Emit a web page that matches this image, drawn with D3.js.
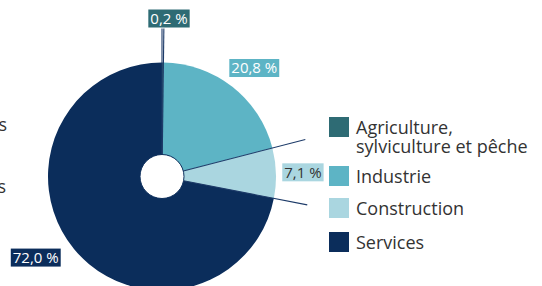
<!DOCTYPE html>
<html>
<head>
<meta charset="utf-8">
<script src="https://cdn.jsdelivr.net/npm/d3@7"></script>
<style>
  body { margin: 0; background: #fff; }
  svg { display: block; font-family: "Open Sans", sans-serif; }
</style>
</head>
<body>
<div id="chart"></div>
<script>
const width = 542, height = 286;

// data
const sectors = ["Agriculture, sylviculture et pêche", "Industrie", "Construction", "Services"];
const legendLines = [["Agriculture,", "sylviculture et pêche"], ["Industrie"], ["Construction"], ["Services"]];
const shares = [0.2, 20.8, 7.1, 72.0];
const shareLabels = ["0,2 %", "20,8 %", "7,1 %", "72,0 %"];

const colors = ["#2e6b74", "#5db4c5", "#aad6e0", "#0b2d5b"];
const labelText = ["#fff", "#fff", "#333", "#fff"];
// label placement: radius and small nudges
const labelPos = [
  { r: 158, dx: 6, dy: 0 },
  { r: 143, dx: 4, dy: 4 },
  { r: 140, dx: 1, dy: 0 },
  { r: 148, dx: -12, dy: -13 }
];

const cx = 162, cy = 176.5, R = 114, hole = 22, lineR = 148;

const svg = d3.select("#chart")
  .append("svg")
  .attr("width", width)
  .attr("height", height);

// cut-off text fragments on the left edge
svg.append("text").attr("x", 7).attr("y", 131).attr("text-anchor", "end")
  .attr("font-size", 18).attr("fill", "#333").text("s");
svg.append("text").attr("x", 6).attr("y", 193).attr("text-anchor", "end")
  .attr("font-size", 18).attr("fill", "#333").text("s");

const pie = d3.pie().sort(null).value(d => d);
const arcs = pie(shares);

const arc = d3.arc().innerRadius(0).outerRadius(R);

const g = svg.append("g").attr("transform", `translate(${cx},${cy})`);

g.selectAll("path.slice")
  .data(arcs)
  .join("path")
  .attr("class", "slice")
  .attr("d", arc)
  .attr("fill", (d, i) => colors[i]);

// boundary lines of the small slices, extended out to the labels
const edges = [];
arcs.forEach((d, i) => {
  if (d.data < 10) edges.push(d.startAngle, d.endAngle);
});
g.selectAll("line.edge")
  .data(edges)
  .join("line")
  .attr("class", "edge")
  .attr("x1", a => hole * Math.sin(a))
  .attr("y1", a => -hole * Math.cos(a))
  .attr("x2", a => lineR * Math.sin(a))
  .attr("y2", a => -lineR * Math.cos(a))
  .attr("stroke", "#1c3a68")
  .attr("stroke-width", 1.1);

g.append("circle")
  .attr("r", hole)
  .attr("fill", "#fff")
  .attr("stroke", "#0b2d5b")
  .attr("stroke-width", 1);

// value labels in boxes
const labels = g.selectAll("g.lab")
  .data(arcs)
  .join("g")
  .attr("class", "lab")
  .attr("transform", (d, i) => {
    const a = (d.startAngle + d.endAngle) / 2;
    const p = labelPos[i];
    return `translate(${p.r * Math.sin(a) + p.dx},${-p.r * Math.cos(a) + p.dy})`;
  });

labels.append("text")
  .attr("text-anchor", "middle")
  .attr("dy", "0.35em")
  .attr("font-size", 15)
  .attr("fill", (d, i) => labelText[i])
  .text((d, i) => shareLabels[i]);

labels.each(function (d, i) {
  const t = d3.select(this).select("text");
  const b = t.node().getBBox();
  d3.select(this).insert("rect", "text")
    .attr("x", b.x - 2)
    .attr("y", -9)
    .attr("width", b.width + 4)
    .attr("height", 18)
    .attr("fill", colors[i]);
});

// legend
const legendY = [117, 166, 198, 232];
const legend = svg.append("g").attr("transform", "translate(329,0)");
const items = legend.selectAll("g")
  .data(sectors)
  .join("g")
  .attr("transform", (d, i) => `translate(0,${legendY[i]})`);

items.append("rect")
  .attr("width", 20)
  .attr("height", 20)
  .attr("fill", (d, i) => colors[i]);

items.append("text")
  .attr("x", 27)
  .attr("y", 17)
  .attr("font-size", 18)
  .attr("fill", "#333")
  .selectAll("tspan")
  .data((d, i) => legendLines[i])
  .join("tspan")
  .attr("x", 27)
  .attr("dy", (d, j) => j === 0 ? 0 : 19)
  .text(d => d);
</script>
</body>
</html>
